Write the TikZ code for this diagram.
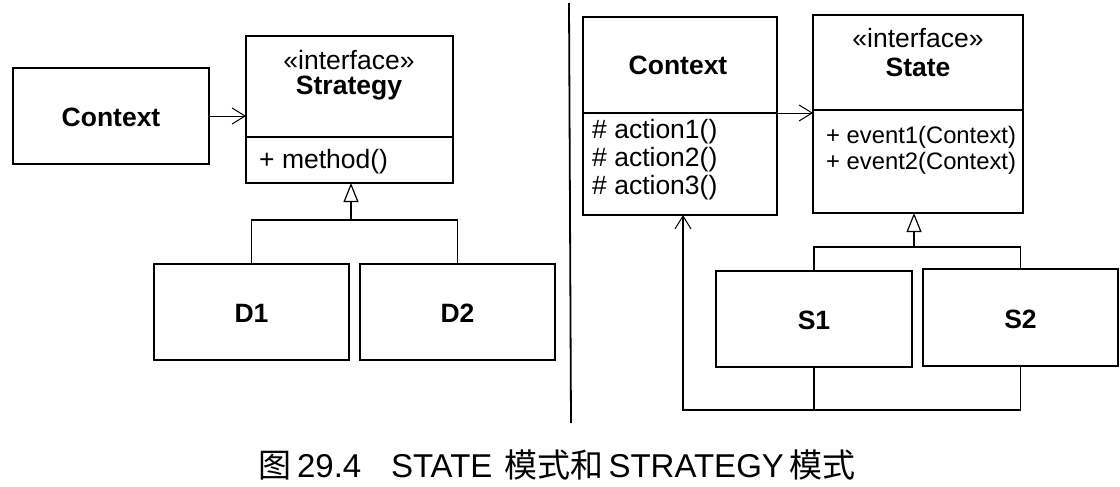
\documentclass[tikz,border=0pt]{standalone}
\usepackage{fontspec}
\setmainfont{Liberation Sans}
\newfontfamily\cjk{Noto Sans CJK SC}
\usetikzlibrary{arrows.meta}
\begin{document}
\begin{tikzpicture}[x=1pt,y=-1pt,
  box/.style={draw, line width=1.2pt, inner sep=0pt, outer sep=0pt},
  ttl/.style={font=\fontsize{26.5}{26.5}\selectfont\bfseries, inner sep=0pt},
  txt/.style={font=\fontsize{26.5}{26.5}\selectfont, inner sep=0pt},
  evt/.style={font=\fontsize{23.8}{23.8}\selectfont, inner sep=0pt},
  dep/.style={line width=1pt, -{Straight Barb[length=13pt,width=16pt,line width=1pt]}},
  gen/.style={line width=1.2pt, -{Triangle[open,length=19pt,width=15pt,line width=1.2pt]}},
  plain/.style={line width=1.2pt}]
\useasboundingbox (0,0) rectangle (1120,487);
\fill[white] (0,0) rectangle (1120,487);

% ---------- left: Strategy ----------
\node[box, minimum width=196pt, minimum height=96pt] (ctxL) at (111,116) {};
\node[ttl] (ctxLt) at (111,117) {Context};

\node[box, minimum width=207pt, minimum height=147pt] (strat) at (349.5,109.5) {};
\coordinate (stdiv) at (349.5,137);
\draw[plain] (stdiv -| strat.west) -- (stdiv -| strat.east);
\node[txt] (stI) at (349,60) {«interface»};
\node[ttl] (stN) at (349,88) {Strategy};
\node[txt, anchor=west] (stM) at (259,162) {+ method()};

\node[box, minimum width=195pt, minimum height=96pt] (D1) at (251.5,312) {};
\node[ttl] (D1t) at (251.5,313) {D1};
\node[box, minimum width=195pt, minimum height=96pt] (D2) at (457.5,312) {};
\node[ttl] (D2t) at (457.5,313) {D2};

\draw[dep] (ctxL.east) -- (ctxL.east -| strat.west);
\coordinate (sj) at (351,220);
\draw[gen] (sj) -- (sj |- strat.south);
\draw[plain] (D1.north) |- (sj) -| (D2.north);

% divider
\draw[line width=1.8pt] (569,3) -- (571,423);

% ---------- right: State ----------
\node[box, minimum width=194pt, minimum height=198pt] (ctxR) at (680,116) {};
\coordinate (crdiv) at (680,113);
\draw[plain] (crdiv -| ctxR.west) -- (crdiv -| ctxR.east);
\node[ttl] (ctxRt) at (678,65) {Context};
\node[txt, anchor=west] (a1) at (592,132) {\# action1()};
\node[txt, anchor=west] (a2) at (592,160) {\# action2()};
\node[txt, anchor=west] (a3) at (592,188) {\# action3()};

\node[box, minimum width=210pt, minimum height=198pt] (state) at (918,114) {};
\coordinate (sdiv) at (918,110);
\draw[plain] (sdiv -| state.west) -- (sdiv -| state.east);
\node[txt] (sI) at (918,38) {«interface»};
\node[ttl] (sN) at (918,67) {State};
\node[evt, anchor=west] (e1) at (826,137) {+ event1(Context)};
\node[evt, anchor=west] (e2) at (826,163) {+ event2(Context)};

\draw[dep] (crdiv -| ctxR.east) -- (crdiv -| state.west);

\node[box, minimum width=196pt, minimum height=96pt] (S1) at (814,319) {};
\node[ttl] (S1t) at (814,320) {S1};
\node[box, minimum width=195pt, minimum height=97pt] (S2) at (1020.5,317.5) {};
\node[ttl] (S2t) at (1020.5,319) {S2};

\coordinate (tj) at (914,247);
\draw[gen] (tj) -- (tj |- state.south);
\draw[plain] (S1.north) |- (tj) -| (S2.north);

\coordinate (bl) at (683,410);
\draw[plain] (S1.south) -- (S1.south |- bl);
\draw[dep, line width=1.2pt] (S2.south) |- (bl) -- (bl |- ctxR.south);

% ---------- caption ----------
\node[font=\fontsize{33}{33}\selectfont, inner sep=0pt] (cap) at (557,465)
  {{\cjk 图}\,29.4\hspace{0.9em}STATE\hspace{0.35em}{\cjk 模式和}\,STRATEGY\,{\cjk 模式}};
\end{tikzpicture}
\end{document}
